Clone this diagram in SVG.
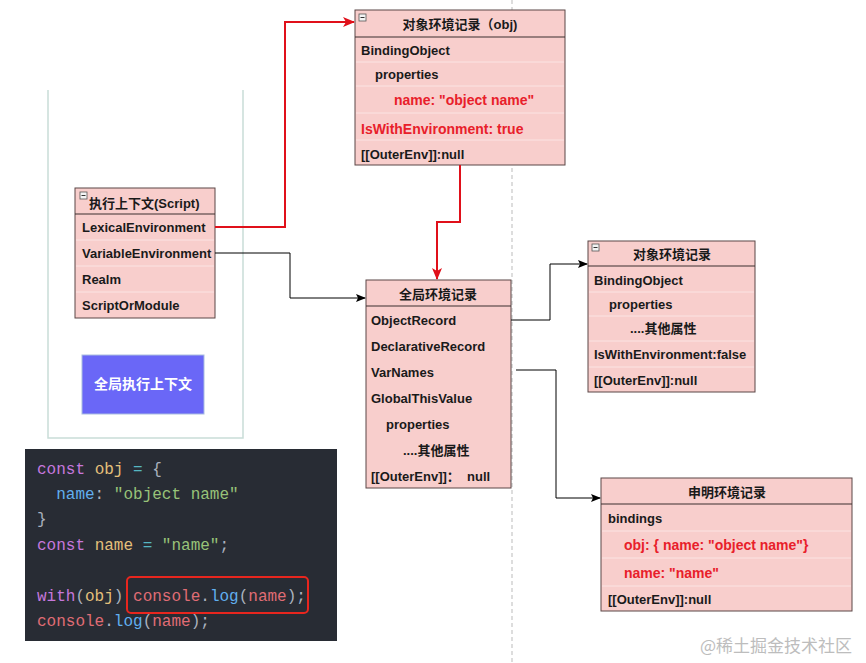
<svg xmlns="http://www.w3.org/2000/svg" width="866" height="663" viewBox="0 0 866 663">
<defs>
<marker id="ab" markerWidth="10" markerHeight="8" refX="9" refY="4" orient="auto" markerUnits="userSpaceOnUse"><path d="M0,0 L10,4 L0,8 L2,4 Z" fill="#000"/></marker>
<marker id="ar" markerWidth="12" markerHeight="10" refX="11" refY="5" orient="auto" markerUnits="userSpaceOnUse"><path d="M0,0 L12,5 L0,10 L3,5 Z" fill="#e0101a"/></marker>
<style>
.box{fill:#f8cecc;stroke:#5b4646;stroke-width:1}
.hs{stroke:#3a2e2e;stroke-width:1}
.sep{stroke:#fbe4e3;stroke-width:1}
.t{font-family:"Liberation Sans","Noto Sans CJK SC",sans-serif;font-size:13px;font-weight:bold;fill:#1a1a1a}
.h{font-family:"Liberation Sans","Noto Sans CJK SC",sans-serif;font-size:13px;font-weight:bold;fill:#1a1a1a;text-anchor:middle}
.r{font-family:"Liberation Sans","Noto Sans CJK SC",sans-serif;font-size:14px;font-weight:bold;fill:#e8202a}
.mi{fill:#f4f4f4;stroke:#555;stroke-width:0.8}
.code{font-family:"Liberation Mono","DejaVu Sans Mono",monospace;font-size:16px}
.kw{fill:#c678dd}.yl{fill:#e5c07b}.cy{fill:#56b6c2}.gr{fill:#abb2bf}.bl{fill:#61afef}.st{fill:#98c379}.rd{fill:#e06c75}
.cb{fill:none;stroke:#000;stroke-width:1}
.cr{fill:none;stroke:#e0101a;stroke-width:2}
</style>
</defs>
<rect width="866" height="663" fill="#fff"/>
<line x1="512" y1="0" x2="512" y2="663" stroke="#bbb" stroke-width="1" stroke-dasharray="4,3"/>
<g id="container">
<path d="M48,90 V438 H243 V90" fill="none" stroke="#c9ddd8" stroke-width="1.5"/>
</g>
<g id="exec-context">
<rect class="box" x="75" y="188" width="140" height="130"/>
<line class="hs" x1="75" y1="214" x2="215" y2="214"/>
<line class="sep" x1="76" y1="240" x2="214" y2="240"/>
<line class="sep" x1="76" y1="266" x2="214" y2="266"/>
<line class="sep" x1="76" y1="292" x2="214" y2="292"/>
<rect class="mi" x="80" y="192" width="7" height="7"/><line x1="81.5" y1="195.5" x2="85.5" y2="195.5" stroke="#333"/>
<text class="t" x="89" y="208">执行上下文(Script)</text>
<text class="t" x="82" y="232">LexicalEnvironment</text>
<text class="t" x="82" y="258">VariableEnvironment</text>
<text class="t" x="82" y="284">Realm</text>
<text class="t" x="82" y="310">ScriptOrModule</text>
</g>
<g id="global-exec-context">
<rect x="82" y="355" width="122" height="59" fill="#6a67f7" stroke="#a9bde0" stroke-width="1"/>
<text x="143" y="389" text-anchor="middle" font-family="Liberation Sans,Noto Sans CJK SC,sans-serif" font-size="14" font-weight="bold" fill="#fff">全局执行上下文</text>
</g>
<g id="obj-env-record">
<rect class="box" x="355" y="10" width="210" height="155"/>
<line class="hs" x1="355" y1="37" x2="565" y2="37"/>
<line class="sep" x1="356" y1="62" x2="564" y2="62"/>
<line class="sep" x1="356" y1="86" x2="564" y2="86"/>
<line class="sep" x1="356" y1="113" x2="564" y2="113"/>
<line class="sep" x1="356" y1="140" x2="564" y2="140"/>
<rect class="mi" x="359" y="14" width="7" height="7"/><line x1="360.5" y1="17.5" x2="364.5" y2="17.5" stroke="#333"/>
<text class="h" x="460" y="29">对象环境记录（obj)</text>
<text class="t" x="361" y="55">BindingObject</text>
<text class="t" x="375" y="79">properties</text>
<text class="r" x="394" y="105">name: "object name"</text>
<text class="r" x="361" y="134">IsWithEnvironment: true</text>
<text class="t" x="361" y="159">[[OuterEnv]]:null</text>
</g>
<g id="global-env-record">
<rect class="box" x="366" y="280" width="145" height="208"/>
<line class="hs" x1="366" y1="306" x2="511" y2="306"/>
<text class="h" x="438" y="299">全局环境记录</text>
<text class="t" x="371" y="325">ObjectRecord</text>
<text class="t" x="371" y="351">DeclarativeRecord</text>
<text class="t" x="371" y="377">VarNames</text>
<text class="t" x="371" y="403">GlobalThisValue</text>
<text class="t" x="386" y="429">properties</text>
<text class="t" x="403" y="455">....其他属性</text>
<text class="t" x="371" y="481">[[OuterEnv]]：</text>
<text class="t" x="467" y="481">null</text>
</g>
<g id="obj-env-record-2">
<rect class="box" x="588" y="241" width="167" height="151"/>
<line class="hs" x1="588" y1="266" x2="755" y2="266"/>
<line class="sep" x1="589" y1="292" x2="754" y2="292"/>
<line class="sep" x1="589" y1="316" x2="754" y2="316"/>
<line class="sep" x1="589" y1="341" x2="754" y2="341"/>
<line class="sep" x1="589" y1="367" x2="754" y2="367"/>
<rect class="mi" x="592" y="244" width="7" height="7"/><line x1="593.5" y1="247.5" x2="597.5" y2="247.5" stroke="#333"/>
<text class="h" x="672" y="259">对象环境记录</text>
<text class="t" x="594" y="285">BindingObject</text>
<text class="t" x="609" y="309">properties</text>
<text class="t" x="630" y="333">....其他属性</text>
<text class="t" x="594" y="359">IsWithEnvironment:false</text>
<text class="t" x="594" y="385">[[OuterEnv]]:null</text>
</g>
<g id="decl-env-record">
<rect class="box" x="601" y="478" width="251" height="133"/>
<line class="hs" x1="601" y1="504" x2="852" y2="504"/>
<line class="sep" x1="602" y1="531" x2="851" y2="531"/>
<line class="sep" x1="602" y1="558" x2="851" y2="558"/>
<line class="sep" x1="602" y1="586" x2="851" y2="586"/>
<text class="h" x="727" y="497">申明环境记录</text>
<text class="t" x="608" y="523">bindings</text>
<text class="r" x="624" y="550">obj: { name: "object name"}</text>
<text class="r" x="624" y="578">name: "name"</text>
<text class="t" x="608" y="604">[[OuterEnv]]:null</text>
</g>
<g id="connectors">
<path class="cr" d="M215,227 H285 V22 H354" marker-end="url(#ar)"/>
<path class="cb" d="M215,253 H290 V298 H365" marker-end="url(#ab)"/>
<path class="cr" d="M460,165 V222 H437 V279" marker-end="url(#ar)"/>
<path class="cb" d="M511,320 H550 V264 H587" marker-end="url(#ab)"/>
<path class="cb" d="M516,370 H556 V498 H600" marker-end="url(#ab)"/>
</g>
<g id="code">
<rect x="25" y="449" width="312" height="192" fill="#282c34"/>
<text class="code" x="37" y="474" xml:space="preserve"><tspan class="kw">const</tspan> <tspan class="yl">obj</tspan> <tspan class="cy">=</tspan> <tspan class="gr">{</tspan></text>
<text class="code" x="37" y="499" xml:space="preserve">  <tspan class="bl">name</tspan><tspan class="gr">:</tspan> <tspan class="st">"object name"</tspan></text>
<text class="code gr" x="37" y="524">}</text>
<text class="code" x="37" y="550" xml:space="preserve"><tspan class="kw">const</tspan> <tspan class="yl">name</tspan> <tspan class="cy">=</tspan> <tspan class="st">"name"</tspan><tspan class="gr">;</tspan></text>
<text class="code" x="37" y="601" xml:space="preserve"><tspan class="kw">with</tspan><tspan class="gr">(</tspan><tspan class="yl">obj</tspan><tspan class="gr">)</tspan> <tspan class="rd">console</tspan><tspan class="gr">.</tspan><tspan class="bl">log</tspan><tspan class="gr">(</tspan><tspan class="rd">name</tspan><tspan class="gr">);</tspan></text>
<text class="code" x="37" y="626" xml:space="preserve"><tspan class="rd">console</tspan><tspan class="gr">.</tspan><tspan class="bl">log</tspan><tspan class="gr">(</tspan><tspan class="rd">name</tspan><tspan class="gr">);</tspan></text>
<rect x="127" y="577" width="181" height="36" rx="4" fill="none" stroke="#e8261e" stroke-width="2"/>
</g>
<text x="700" y="652" font-family="Noto Sans CJK SC,sans-serif" font-size="17" fill="#bdbdbd">@稀土掘金技术社区</text>
</svg>
